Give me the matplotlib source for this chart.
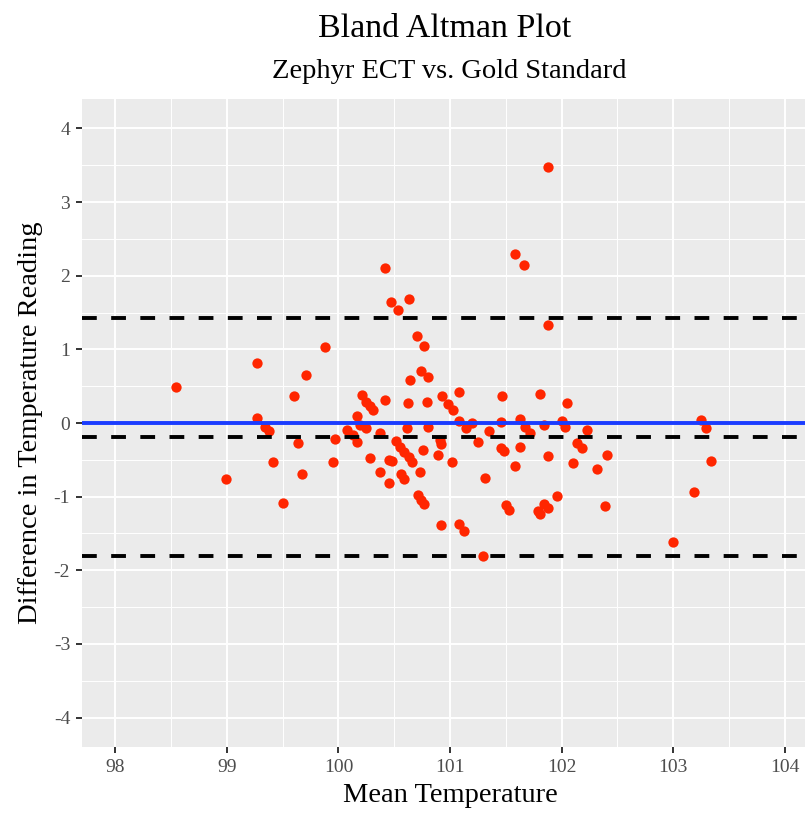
# Bland-Altman plot: Zephyr ECT vs. gold standard thermometer
import numpy as np
import matplotlib.pyplot as plt
from matplotlib.ticker import MultipleLocator

# mean of the two readings
mean_temp = [
    98.54, 99.27, 99.88, 99.71, 99.60, 99.27, 99.34, 99.38, 99.64, 99.97,
    100.08, 99.41, 99.95, 99.67, 98.99, 99.50, 100.42, 100.47, 100.63, 100.53,
    100.70, 100.77, 100.74, 100.80, 100.64, 101.08, 100.21, 100.25, 100.28, 100.31,
    100.42, 100.62, 100.79, 100.93, 100.98, 101.03, 101.08, 101.14, 100.17, 100.13,
    100.17, 100.19, 100.25, 100.37, 100.61, 100.80, 100.52, 100.55, 100.59, 100.63,
    100.66, 100.76, 100.91, 100.92, 100.89, 101.02, 100.28, 100.45, 100.48, 100.37,
    100.45, 100.56, 100.59, 100.73, 100.71, 100.74, 100.77, 100.92, 101.08, 101.13,
    101.47, 101.81, 102.05, 101.20, 101.35, 101.46, 101.63, 101.67, 101.72, 101.84,
    102.00, 102.03, 102.23, 101.25, 101.46, 101.48, 101.63, 101.88, 101.58, 102.14,
    102.18, 102.10, 102.32, 102.41, 101.31, 101.96, 101.50, 101.53, 101.84, 101.88,
    101.79, 101.81, 102.39, 101.30, 101.58, 101.66, 101.88, 101.88, 103.25, 103.30,
    103.34, 103.19, 103.00,
]

# difference between the two readings
diff = [
    0.49, 0.81, 1.03, 0.65, 0.36, 0.07, -0.05, -0.11, -0.27, -0.22,
    -0.09, -0.53, -0.53, -0.69, -0.76, -1.08, 2.10, 1.64, 1.68, 1.54,
    1.18, 1.04, 0.70, 0.63, 0.58, 0.42, 0.38, 0.29, 0.23, 0.18,
    0.31, 0.27, 0.29, 0.37, 0.26, 0.18, 0.03, -0.07, 0.09, -0.16,
    -0.26, -0.03, -0.07, -0.14, -0.07, -0.05, -0.25, -0.32, -0.39, -0.46,
    -0.53, -0.37, -0.23, -0.28, -0.43, -0.53, -0.48, -0.50, -0.52, -0.66,
    -0.81, -0.69, -0.76, -0.66, -0.98, -1.04, -1.10, -1.39, -1.37, -1.47,
    0.37, 0.40, 0.27, 0.00, -0.11, 0.02, 0.05, -0.05, -0.13, -0.03,
    0.03, -0.05, -0.09, -0.26, -0.34, -0.38, -0.32, -0.45, -0.58, -0.27,
    -0.34, -0.55, -0.62, -0.44, -0.75, -0.99, -1.12, -1.18, -1.10, -1.15,
    -1.19, -1.24, -1.13, -1.80, 2.30, 2.14, 1.33, 3.47, 0.04, -0.07,
    -0.51, -0.94, -1.61,
]

mean_diff = -0.19
upper_loa = 1.42
lower_loa = -1.80

plt.rcParams['font.family'] = ['Liberation Serif', 'DejaVu Serif']
plt.rcParams['axes.unicode_minus'] = False

fig = plt.figure(figsize=(8.05, 8.13), dpi=100)
# panel runs a little past the right edge, like the cropped original
ax = fig.add_axes([82/805, 66/813, 736/805, 648/813])
ax.set_facecolor('#EBEBEB')
for s in ax.spines.values():
    s.set_visible(False)

ax.set_xlim(97.7, 104.3)
ax.set_ylim(-4.4, 4.4)
ax.xaxis.set_major_locator(MultipleLocator(1))
ax.xaxis.set_minor_locator(MultipleLocator(0.5))
ax.yaxis.set_major_locator(MultipleLocator(1))
ax.yaxis.set_minor_locator(MultipleLocator(0.5))
ax.grid(which='major', color='white', lw=1.4, zorder=0)
ax.grid(which='minor', color='white', lw=0.7, zorder=0)
ax.set_axisbelow(True)
ax.tick_params(which='major', length=4.5, width=1.4, color='#333333',
               labelsize=14, labelcolor='#4D4D4D', pad=4)
ax.tick_params(which='minor', length=0)

ax.scatter(mean_temp, diff, s=55, color='#FF2600', linewidths=0, zorder=3)

ax.axhline(0, color='#1A3CFF', lw=2.8, zorder=4)
for yv in [upper_loa, mean_diff, lower_loa]:
    ax.axhline(yv, color='black', lw=2.8, linestyle=(0, (3.8, 3.7)), zorder=4)

ax.set_xlabel('Mean Temperature', fontsize=20.5, labelpad=5)
ax.set_ylabel('Difference in Temperature Reading', fontsize=20.5, labelpad=8)

fig.text(445/805, 1 - 29/813, 'Bland Altman Plot', fontsize=24.5,
         ha='center', va='center')
fig.text(449/805, 1 - 71/813, 'Zephyr ECT vs. Gold Standard', fontsize=20.5,
         ha='center', va='center')

fig.savefig('out.png', dpi=100)
